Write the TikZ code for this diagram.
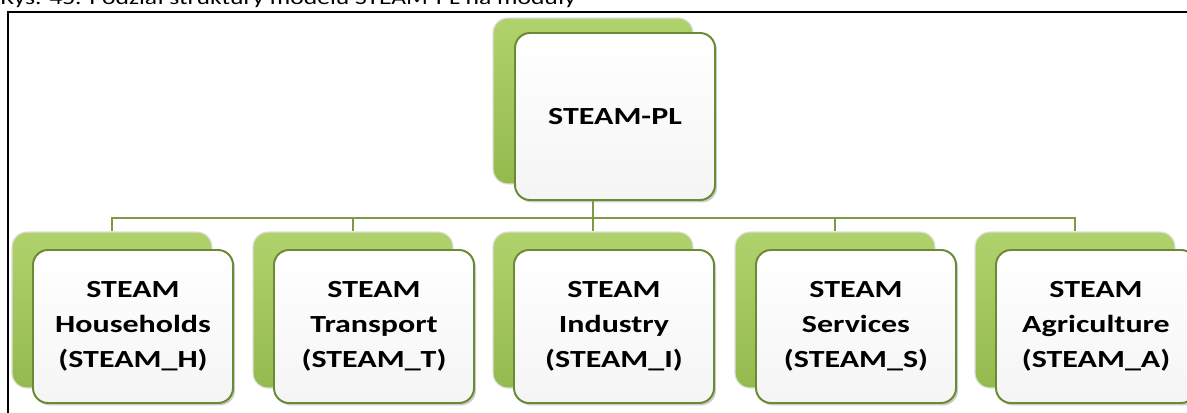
\documentclass[tikz,border=0pt]{standalone}
\usepackage{fontspec}
\setmainfont{Carlito}
\newfontfamily\boxfont[FakeStretch=1.3]{Carlito}
\usepackage{xcolor}
\usepackage{tikz}
\usetikzlibrary{shadows}
\definecolor{backgreen}{RGB}{148,186,78}
\definecolor{backlight}{RGB}{176,210,108}
\definecolor{frameolive}{RGB}{107,138,53}
\definecolor{linkgreen}{RGB}{125,155,65}

\begin{document}
\begin{tikzpicture}[
  backbox/.style={rectangle, rounded corners=0.375cm, minimum width=5cm, minimum height=3.9cm,
    top color=backlight, bottom color=backgreen, draw=gray!25, line width=0.8pt},
  frontbox/.style={rectangle, rounded corners=0.375cm, minimum width=5cm, minimum height=3.825cm,
    top color=white, bottom color=gray!8, draw=frameolive, line width=1.4pt, align=center,
    font=\boxfont\bfseries\fontsize{17.5}{25}\selectfont,
    drop shadow={shadow xshift=0.05cm, shadow yshift=-0.06cm, opacity=0.4}},
  link/.style={draw=linkgreen, line width=1.6pt}
]
  \useasboundingbox (0,0) rectangle (29.675,-10.3);
  \clip (0,0) rectangle (29.675,-10.3);
  % caption, cut by the page top
  \node[anchor=base west, inner sep=0pt, font=\boxfont\fontsize{14}{16}\selectfont] (caption) at (0,-0.1)
    {Rys. 45. Podział struktury modelu STEAM-PL na moduły};
  \draw[line width=1.4pt] (0.2,-10.6) -- (0.2,-0.3) -- (30,-0.3);

  % top module
  \node[backbox, minimum height=4.15cm] (plback) at (14.825,-2.525) {};
  \node[frontbox, minimum height=4.175cm] (plfront) at (15.375,-2.9125) {STEAM-PL};

  % sub-modules
  \node[backbox] (hback) at (2.8,-7.75) {};
  \node[frontbox] (hfront) at (3.325,-8.1625) {STEAM\\Households\\(STEAM\_H)};
  \node[backbox] (tback) at (8.825,-7.75) {};
  \node[frontbox] (tfront) at (9.35,-8.1625) {STEAM\\Transport\\(STEAM\_T)};
  \node[backbox] (iback) at (14.825,-7.75) {};
  \node[frontbox] (ifront) at (15.35,-8.1625) {STEAM\\Industry\\(STEAM\_I)};
  \node[backbox] (sback) at (20.875,-7.75) {};
  \node[frontbox] (sfront) at (21.4,-8.1625) {STEAM\\Services\\(STEAM\_S)};
  \node[backbox] (aback) at (26.875,-7.75) {};
  \node[frontbox] (afront) at (27.4,-8.1625) {STEAM\\Agriculture\\(STEAM\_A)};

  % links
  \coordinate (bar) at (14.825,-5.45);
  \draw[link] (plback.south |- plfront.south) -- (bar);
  \draw[link] (bar) -| (hback.north);
  \draw[link] (bar) -| (tback.north);
  \draw[link] (bar) -- (iback.north);
  \draw[link] (bar) -| (sback.north);
  \draw[link] (bar) -| (aback.north);
\end{tikzpicture}
\end{document}
